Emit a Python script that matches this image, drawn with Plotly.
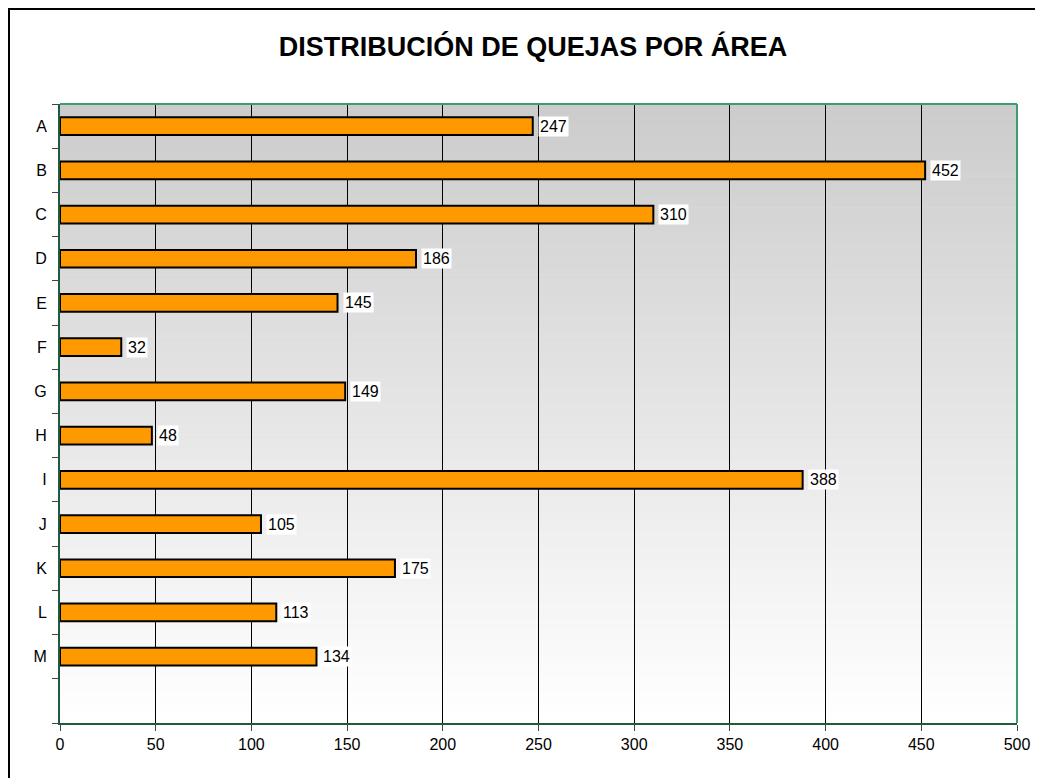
import plotly.graph_objects as go

categories = ["A", "B", "C", "D", "E", "F", "G", "H", "I", "J", "K", "L", "M"]
values = [247, 452, 310, 186, 145, 32, 149, 48, 388, 105, 175, 113, 134]
x_ticks = [0, 50, 100, 150, 200, 250, 300, 350, 400, 450, 500]
title_text = "DISTRIBUCIÓN DE QUEJAS POR ÁREA"

FONT = "Liberation Sans, Arial, sans-serif"
# page body has an 8px margin, so the figure is sized to fit the window
W, H = 1035, 770
ML, MR, MT, MB = 52, 26, 96, 55
PW, PH = W - ML - MR, H - MT - MB

pos = list(range(len(categories)))

fig = go.Figure()
fig.add_trace(go.Bar(
    x=values, y=pos, orientation="h",
    marker=dict(color="#ff9900", line=dict(color="#000000", width=2)),
    width=0.4, hoverinfo="x+y",
))

shapes = []
# vertical gradient background
n = 120
top = (204, 204, 204)
bot = (255, 255, 255)
for i in range(n):
    t = i / (n - 1)
    c = tuple(round(top[k] + (bot[k] - top[k]) * t) for k in range(3))
    shapes.append(dict(type="rect", xref="x domain", yref="y domain",
                       x0=0, x1=1, y1=1 - i / n, y0=1 - (i + 1) / n - 0.001,
                       fillcolor="rgb(%d,%d,%d)" % c, line=dict(width=0),
                       layer="below"))
# top and right border
shapes.append(dict(type="line", xref="x domain", yref="y domain",
                   x0=0, x1=1, y0=1, y1=1, line=dict(color="#3c9e6e", width=2)))
shapes.append(dict(type="line", xref="x domain", yref="y domain",
                   x0=1, x1=1, y0=0, y1=1, line=dict(color="#3c9e6e", width=2)))
# outer frame (left and top edges visible)
shapes.append(dict(type="rect", xref="paper", yref="paper",
                   x0=(1 - ML) / PW, x1=(W + 20 - ML) / PW,
                   y0=-(MB + 20) / PH, y1=(H - MB - 1) / PH,
                   line=dict(color="#000000", width=2), fillcolor="rgba(0,0,0,0)"))

annotations = []
for c, v, p in zip(categories, values, pos):
    annotations.append(dict(x=v, y=p, xref="x", yref="y", text=str(v),
                            showarrow=False, xanchor="left", yanchor="middle",
                            xshift=5, bgcolor="#ffffff", borderpad=1,
                            font=dict(family=FONT, size=16, color="#000000")))

fig.update_layout(
    width=W, height=H,
    margin=dict(l=ML, r=MR, t=MT, b=MB),
    paper_bgcolor="#ffffff",
    plot_bgcolor="rgba(0,0,0,0)",
    showlegend=False,
    title=dict(text="<b>" + title_text + "</b>", x=(533 - 8) / W, xanchor="center",
               y=1 - (47 - 8) / H, yanchor="middle", yref="container", xref="container",
               font=dict(family=FONT, size=27, color="#000000")),
    shapes=shapes,
    annotations=annotations,
    xaxis=dict(range=[0, 500], tickvals=x_ticks, showgrid=True,
               gridcolor="#000000", gridwidth=1,
               showline=True, linecolor="#1f5a3c", linewidth=2,
               ticks="outside", ticklen=6, tickcolor="#444444",
               tickfont=dict(family=FONT, size=16, color="#000000"),
               zeroline=False, fixedrange=True),
    yaxis=dict(range=[len(categories) + 0.5, -0.5], tickvals=pos,
               ticktext=categories, showgrid=False, zeroline=False,
               showline=True, linecolor="#1f5a3c", linewidth=2,
               ticks="outside", ticklen=6, tickcolor="rgba(0,0,0,0)",
               ticklabelstandoff=2,
               minor=dict(tick0=0.5, dtick=1, ticks="outside", ticklen=6,
                          tickcolor="#444444", showgrid=False),
               tickfont=dict(family=FONT, size=16, color="#000000"),
               fixedrange=True),
)

fig.write_html("out.html")
